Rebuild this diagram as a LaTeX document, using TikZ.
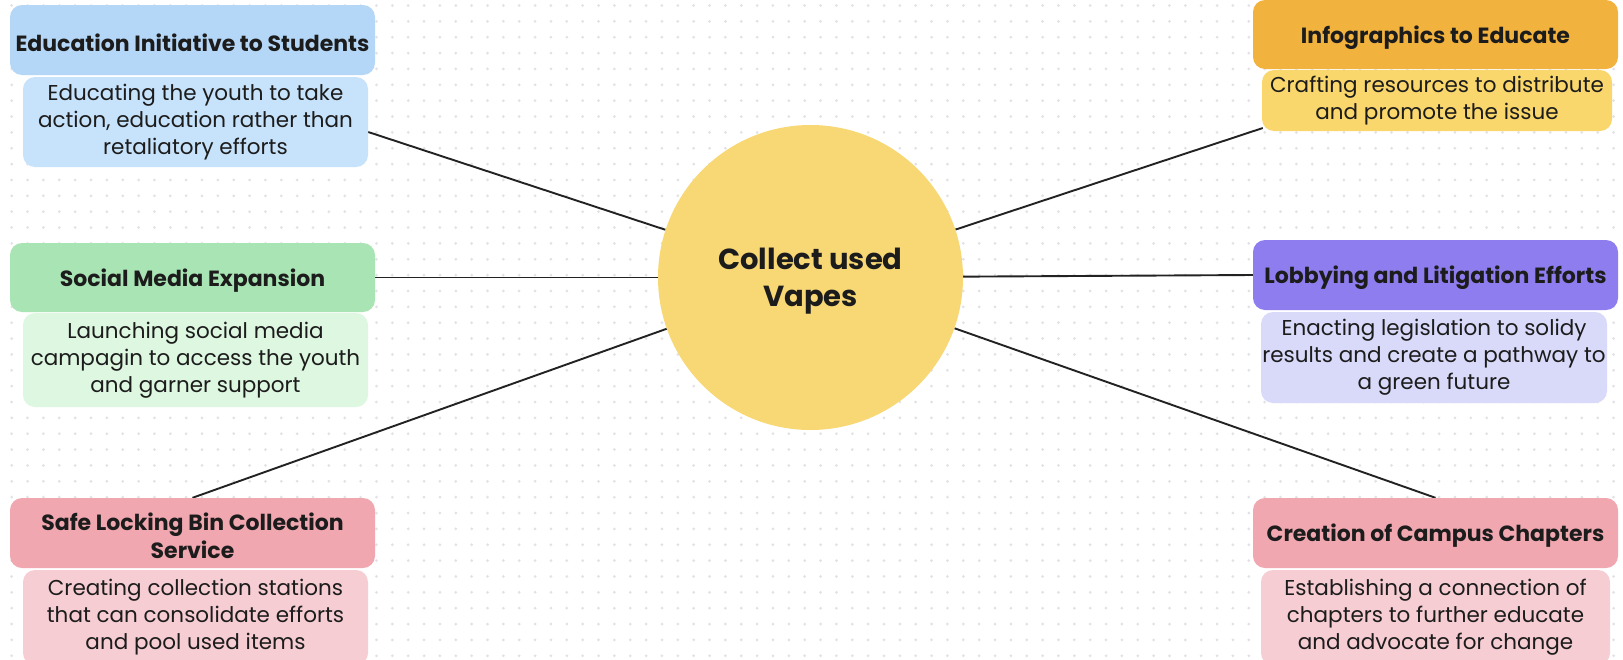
\documentclass[tikz,border=0pt]{standalone}
\usepackage{fontspec}
\setmainfont{Poppins}
\usetikzlibrary{calc}
\pgfdeclarelayer{bg}
\pgfsetlayers{bg,main}
\definecolor{edutc}{HTML}{B5D7F7}
\definecolor{edudc}{HTML}{C7E3FB}
\definecolor{soctc}{HTML}{A9E5B4}
\definecolor{socdc}{HTML}{DDF7E0}
\definecolor{safetc}{HTML}{F0A7B0}
\definecolor{safedc}{HTML}{F6CDD3}
\definecolor{inftc}{HTML}{F2B23E}
\definecolor{infdc}{HTML}{F9D76C}
\definecolor{lobtc}{HTML}{8D7DEF}
\definecolor{lobdc}{HTML}{D9DAFA}
\definecolor{hubc}{HTML}{F8D875}
\definecolor{textc}{HTML}{1C1C1C}
\definecolor{dotc}{HTML}{E2E2E6}
\definecolor{linec}{HTML}{222222}
\newcommand{\tpad}{\rule{0pt}{23.3pt}}
\newcommand{\hpad}{\rule{0pt}{29.5pt}}
\tikzset{
  titlebox/.style={rounded corners=12pt, inner sep=0pt, align=center, text=textc,
    minimum width=365pt, minimum height=70pt,
    font=\fontsize{22}{28}\selectfont\bfseries},
  descbox/.style={rounded corners=12pt, inner sep=0pt, align=center, text=textc,
    font=\fontsize{21.5}{27}\selectfont},
  conn/.style={draw=linec, line width=1.9pt},
  hubnode/.style={circle, fill=hubc, minimum size=305pt, inner sep=0pt, align=center,
    text=textc, font=\fontsize{29}{37}\selectfont\bfseries}
}
\begin{document}
\begin{tikzpicture}[x=1pt,y=-1pt]
\useasboundingbox (0,0) rectangle (1623,659);
\begin{scope}
\clip (0,0) rectangle (1623,659);
% hub
\node[hubnode] (hub) at (810.5,277.5) {\hpad Collect used\\Vapes};
% left column
\node[titlebox, fill=edutc] (edut) at (192.5,40) {\tpad Education Initiative to Students};
\node[descbox, fill=edudc, minimum width=345pt, minimum height=90pt] (edud) at (195.5,122)
  {Educating the youth to take\\action, education rather than\\retaliatory efforts};
\node[titlebox, fill=soctc, minimum height=69pt] (soct) at (192.5,277.5) {\tpad Social Media Expansion};
\node[descbox, fill=socdc, minimum width=345pt, minimum height=94pt] (socd) at (195.5,360)
  {Launching social media\\campagin to access the youth\\and garner support};
\node[titlebox, fill=safetc] (safet) at (192.5,533) {\tpad Safe Locking Bin Collection\\Service};
\node[descbox, fill=safedc, minimum width=345pt, minimum height=95pt] (safed) at (195.5,617.5)
  {Creating collection stations\\that can consolidate efforts\\and pool used items};
% right column
\node[titlebox, fill=inftc, minimum height=69pt] (inft) at (1435.5,34.5) {\tpad Infographics to Educate};
\node[descbox, fill=infdc, minimum width=350pt, minimum height=61pt] (infd) at (1437,100.5)
  {Crafting resources to distribute\\and promote the issue};
\node[titlebox, fill=lobtc] (lobt) at (1435.5,275) {\tpad Lobbying and Litigation Efforts};
\node[descbox, fill=lobdc, minimum width=346pt, minimum height=91pt] (lobd) at (1434,357.5)
  {Enacting legislation to solidy\\results and create a pathway to\\a green future};
\node[titlebox, fill=safetc] (cret) at (1435.5,533) {\tpad Creation of Campus Chapters};
\node[descbox, fill=safedc, minimum width=349pt, minimum height=95pt] (cred) at (1435.5,617.5)
  {Establishing a connection of\\chapters to further educate\\and advocate for change};
% connector ends
\coordinate (eduend) at ($(edud.east)+(0,10)$);
\coordinate (infend) at ($(infd.west)+(1,27.5)$);
\begin{pgfonlayer}{bg}
\fill[white] (0,0) rectangle (1623,659);
\foreach \i in {0,...,102}{
  \foreach \j in {0,...,41}{
    \fill[dotc] (11.7+\i*15.86, 5.5+\j*15.86) circle [radius=1.5pt];
  }
}
\draw[conn] (hub) -- (eduend);
\draw[conn] (hub) -- (soct.east);
\draw[conn] (hub) -- (safet.north);
\draw[conn] (hub) -- (infend);
\draw[conn] (hub) -- (lobt.west);
\draw[conn] (hub) -- (cret.north);
\end{pgfonlayer}
\end{scope}
\end{tikzpicture}
\end{document}
